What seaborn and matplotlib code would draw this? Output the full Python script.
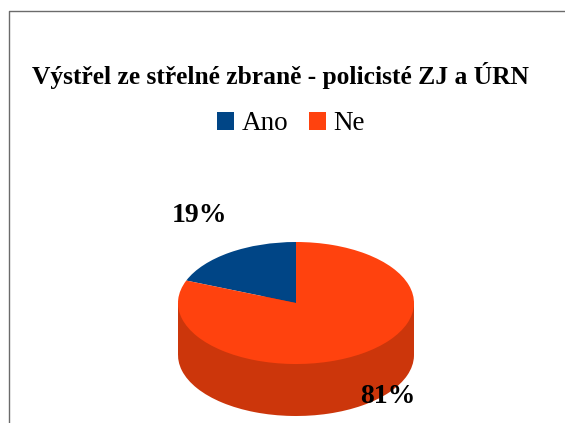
import seaborn as sns
import matplotlib.pyplot as plt
from matplotlib.lines import Line2D

categories = ["Ano", "Ne"]
values = [19, 81]
pct_labels = ["19%", "81%"]
title = "Výstřel ze střelné zbraně - policisté ZJ a ÚRN"

top_colors = ["#004586", "#FF420E"]
side_color = "#CC360B"
W, H = 565, 423
depth = 0.852  # pie thickness, in units of the squashed radius

sns.set_theme(style="white")
plt.rcParams['font.family'] = ['Liberation Serif', 'DejaVu Serif']

fig = plt.figure(figsize=(W / 100, H / 100), dpi=100)

# chart frame, only left and top edges are visible
fig.add_artist(Line2D([9 / W, 9 / W, 1], [0, 1 - 11 / H, 1 - 11 / H], color="#6b6b6b", lw=1))

# axes spans the squashed pie and its side
ax = fig.add_axes([178 / W, 1 - 416 / H, 236 / W, 174 / H])

# side of the pie: bottom disc + band, then the top disc over it
no_edge = {"linewidth": 0}
ax.pie(values, colors=[side_color, side_color], center=(0, -depth), radius=1, startangle=90,
       wedgeprops=no_edge)
ax.bar(0, depth, width=2, bottom=-depth, color=side_color, linewidth=0)
wedges, _ = ax.pie(values, colors=top_colors, center=(0, 0), radius=1, startangle=90,
                   wedgeprops=no_edge)

ax.set_aspect("auto")
ax.set_xlim(-1, 1)
ax.set_ylim(-1 - depth, 1)
ax.axis("off")

fig.text(280.5 / W, 1 - 84 / H, title, fontsize=18.4, fontweight="bold", color="black",
         ha="center", va="baseline")

fig.legend(wedges, categories, loc="center", bbox_to_anchor=(291 / W, 1 - 124 / H), ncol=2,
           frameon=False, fontsize=19.5, labelcolor="black", handlelength=0.62, handleheight=0.62,
           handletextpad=0.3, columnspacing=0.75)

fig.text(200 / W, 1 - 222 / H, pct_labels[0], fontsize=20, fontweight="bold", color="black",
         ha="center", va="baseline")
fig.text(388 / W, 1 - 403 / H, pct_labels[1], fontsize=20, fontweight="bold", color="black",
         ha="center", va="baseline")

fig.savefig("out.png", dpi=100)
